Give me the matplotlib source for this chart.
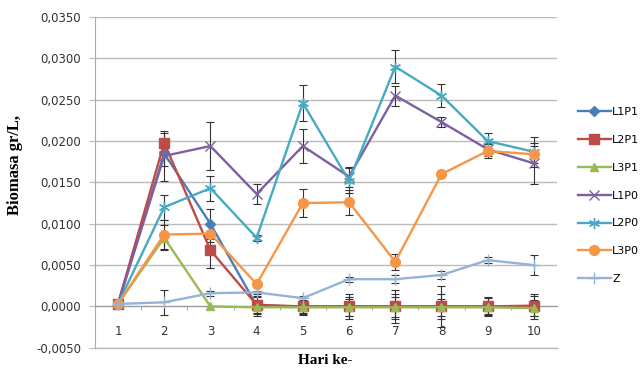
import matplotlib
matplotlib.use("Agg")
import matplotlib.pyplot as plt
from matplotlib.ticker import FuncFormatter, FixedLocator

days = [1, 2, 3, 4, 5, 6, 7, 8, 9, 10]
series_names = ["L1P1", "L2P1", "L3P1", "L1P0", "L2P0", "L3P0", "Z"]

L1P1 = [0.0003, 0.0185, 0.0100, 0.0001, 0.0000, 0.0000, 0.0000, 0.0000, 0.0000, 0.0000]
L2P1 = [0.0003, 0.0198, 0.0068, 0.0002, 0.0000, 0.0000, 0.0000, 0.0000, 0.0000, 0.0001]
L3P1 = [0.0003, 0.0083, 0.0000, -0.0001, -0.0001, -0.0001, -0.0001, -0.0001, -0.0001, -0.0002]
L1P0 = [0.0003, 0.0182, 0.0194, 0.0136, 0.0194, 0.0157, 0.0255, 0.0223, 0.0190, 0.0173]
L2P0 = [0.0003, 0.0120, 0.0143, 0.0083, 0.0246, 0.0152, 0.0290, 0.0255, 0.0200, 0.0187]
L3P0 = [0.0003, 0.0087, 0.0088, 0.0027, 0.0125, 0.0126, 0.0054, 0.0160, 0.0188, 0.0184]
Z = [0.0003, 0.0005, 0.0016, 0.0017, 0.0010, 0.0033, 0.0033, 0.0038, 0.0056, 0.0050]

err_L1P1 = [0.0000, 0.0015, 0.0018, 0.0012, 0.0010, 0.0015, 0.0020, 0.0015, 0.0012, 0.0015]
err_L2P1 = [0.0000, 0.0012, 0.0022, 0.0010, 0.0008, 0.0012, 0.0015, 0.0025, 0.0010, 0.0012]
err_L3P1 = [0.0000, 0.0015, 0.0000, 0.0008, 0.0008, 0.0010, 0.0012, 0.0010, 0.0008, 0.0010]
err_L1P0 = [0.0000, 0.0030, 0.0029, 0.0012, 0.0020, 0.0012, 0.0012, 0.0006, 0.0008, 0.0025]
err_L2P0 = [0.0000, 0.0015, 0.0015, 0.0004, 0.0022, 0.0015, 0.0020, 0.0014, 0.0010, 0.0018]
err_L3P0 = [0.0000, 0.0018, 0.0010, 0.0003, 0.0017, 0.0015, 0.0010, 0.0003, 0.0008, 0.0010]
err_Z = [0.0000, 0.0015, 0.0003, 0.0002, 0.0003, 0.0003, 0.0005, 0.0005, 0.0004, 0.0012]

y_ticks = [-0.005, 0.0, 0.005, 0.010, 0.015, 0.020, 0.025, 0.030, 0.035]

values = [L1P1, L2P1, L3P1, L1P0, L2P0, L3P0, Z]
errors = [err_L1P1, err_L2P1, err_L3P1, err_L1P0, err_L2P0, err_L3P0, err_Z]
colors = ["#4A7EBB", "#BE4B48", "#98B954", "#7D60A0", "#46AAC5", "#F79646", "#95B3D7"]
markers = ["D", "s", "^", "x", (6, 2, 0), "o", "+"]
msizes = [5, 7, 6, 7, 8, 7, 8]
mews = [1.0, 1.0, 1.0, 1.0, 1.0, 1.0, 1.0]

fig = plt.figure(figsize=(6.41, 3.70), dpi=100)
ax = fig.add_axes([0.148, 0.06, 0.721, 0.894])

for name, v, e, c, m, ms, mw in zip(series_names, values, errors, colors, markers, msizes, mews):
    ax.errorbar(days, v, yerr=e, fmt="none", ecolor="#333333", elinewidth=0.8,
                capsize=3, capthick=0.8, zorder=2)
    ax.plot(days, v, color=c, lw=1.7, marker=m, markersize=ms, label=name,
            markeredgecolor=c, markerfacecolor=c, markeredgewidth=mw, zorder=3)

ax.set_xlim(0.5, 10.5)
ax.set_ylim(-0.005, 0.035)
ax.set_yticks(y_ticks)
ax.yaxis.set_major_formatter(FuncFormatter(lambda v, p: ("%.4f" % v).replace(".", ",").replace("-0,0000", "0,0000")))
ax.grid(axis="y", color="#BBBBBB", lw=1.0)
ax.axhline(-0.005, color="#BBBBBB", lw=1.0, clip_on=False, zorder=0)
ax.set_axisbelow(True)

ax.spines["bottom"].set_position(("data", 0))
ax.spines["bottom"].set_color("#999999")
ax.spines["left"].set_color("#AAAAAA")
ax.spines["top"].set_visible(False)
ax.spines["right"].set_visible(False)
ax.set_xticks(days)
ax.set_xticklabels([str(d) for d in days], fontsize=8.5, color="#333333")
ax.tick_params(axis="x", length=0, pad=13)
ax.xaxis.set_minor_locator(FixedLocator([d + 0.5 for d in days[:-1]]))
ax.tick_params(axis="x", which="minor", length=3, color="#999999", direction="out")
ax.tick_params(axis="y", length=4, color="#BBBBBB", labelsize=8.5, labelcolor="#333333", pad=6)

ax.set_ylabel("Biomasa gr/L,", fontsize=12, fontweight="bold", family="Liberation Serif")
ax.yaxis.set_label_coords(-0.155, 0.553)
fig.text(0.508, 0.027, "Hari ke-", fontsize=11, fontweight="bold", family="Liberation Serif",
         ha="center", va="center")

leg = ax.legend(loc="center left", bbox_to_anchor=(1.035, 0.46), frameon=False, fontsize=8,
                handlelength=3.0, labelspacing=1.6, handletextpad=0.1, borderaxespad=0)

fig.savefig("out.png", dpi=100)
